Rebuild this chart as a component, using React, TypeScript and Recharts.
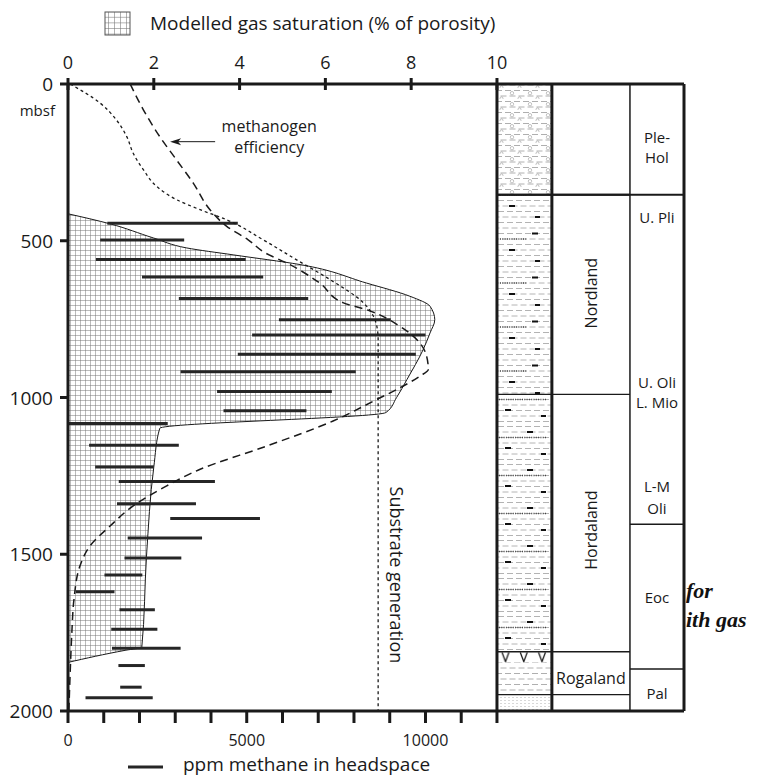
import React from 'react';
import {
  ComposedChart,
  Area,
  Line,
  XAxis,
  YAxis,
  ReferenceArea,
  ReferenceLine,
  ReferenceDot,
} from 'recharts';

const FONT = '"Open Sans", "Noto Sans", sans-serif';
const INK = '#1a1a1a';

// axes
const DEPTH_TICKS = [0, 500, 1000, 1500, 2000];
const GAS_TICKS = [0, 2, 4, 6, 8, 10];
const PPM_TICKS = [0, 1000, 2000, 3000, 4000, 5000, 6000, 7000, 8000, 9000, 10000, 11000, 12000];
const PPM_LABELS = [0, 5000, 10000];

// the top axis runs on past 10 % over the three strat columns
const COLUMN_EDGES = [10, 11.28, 13.1, 14.36]; // lithology | formation | epoch
const GAS_MAX = COLUMN_EDGES[3];
const PPM_PER_GAS = 1200; // 12000 ppm sits under 10 %

// modelled gas saturation envelope: [depth mbsf, % of porosity]
const GAS_SATURATION: [number, number][] = [
  [414, 0], [446, 0.98], [491, 1.99], [523, 2.77], [545, 3.85], [576, 5.41],
  [635, 6.96], [677, 7.97], [709, 8.44], [752, 8.55], [794, 8.44], [847, 8.28],
  [943, 7.9], [1000, 7.66], [1048, 7.41], [1098, 2.14], [1222, 2.0], [1506, 1.83],
  [1797, 1.72], [1806, 1.35], [1845, 0],
];

// substrate generation curve (short dashes)
const SUBSTRATE: [number, number][] = [
  [0, 0.05], [61, 0.75], [115, 1.13], [168, 1.37], [221, 1.52], [274, 1.76],
  [327, 2.07], [369, 2.53], [401, 3.08], [433, 3.7], [497, 4.55], [561, 5.33],
  [624, 6.11], [697, 6.88], [741, 7.12], [773, 7.2], [815, 7.23], [2000, 7.23],
];

// methanogen efficiency curve (long dashes)
const METHANOGEN: [number, number][] = [
  [0, 1.45], [83, 1.76], [168, 2.14], [242, 2.53], [316, 2.92], [401, 3.31],
  [454, 3.7], [497, 4.2], [539, 4.6], [571, 5.1], [635, 5.87], [698, 6.42],
  [720, 6.96], [773, 7.74], [815, 8.13], [868, 8.36], [911, 8.4], [932, 8.2],
  [969, 7.74], [1006, 7.2], [1075, 6.18], [1155, 4.63], [1229, 3.08], [1282, 2.3],
  [1346, 1.52], [1410, 0.98], [1474, 0.51], [1537, 0.28], [1643, 0.14], [1749, 0.09],
  [1844, 0.06], [2000, 0.02],
];

// ppm methane in headspace, ranges per sample depth
const METHANE_DEPTH = [
  444, 498, 560, 616, 684, 752, 801, 862, 918, 981, 1042, 1083, 1152, 1222,
  1268, 1339, 1386, 1448, 1512, 1566, 1620, 1677, 1739, 1800, 1855, 1924, 1958,
];
const METHANE_MIN = [
  1100, 900, 780, 2070, 3100, 5900, 5150, 4750, 3150, 4170, 4350, 0, 590, 760,
  1420, 1370, 2860, 1670, 1580, 1020, 220, 1440, 1210, 1230, 1410, 1460, 490,
];
const METHANE_MAX = [
  4750, 3250, 4970, 5460, 6720, 9030, 10000, 9730, 8050, 7380, 6670, 2790, 3100, 2400,
  4110, 3580, 5370, 3750, 3170, 2080, 1300, 2430, 2500, 3150, 2150, 2060, 2370,
];

// stratigraphy
const LITHO_BREAKS = [0, 353, 990, 1811, 1845, 1948, 2000];
const FORMATION_BOUNDARIES = [353, 990, 1811, 1948];
const FORMATION_NAMES = ['Nordland', 'Hordaland', 'Rogaland'];
const FORMATION_LABEL_DEPTH = [667, 1423, 1895];
const EPOCH_BOUNDARIES = [353, 1404, 1866];
const EPOCH_LABELS = ['Ple-', 'Hol', 'U. Pli', 'U. Oli', 'L. Mio', 'L-M', 'Oli', 'Eoc', 'Pal'];
const EPOCH_LABEL_DEPTH = [169, 233, 424, 949, 1013, 1283, 1354, 1636, 1942];

const LITHO_FILLS = ['url(#pebbly)', 'url(#mud)', 'url(#mud2)', 'url(#tuff)', 'url(#shale)', 'url(#sand)'];

const toRows = (rows: [number, number][]) => rows.map(([depth, gas]) => ({ depth, gas }));

const GasTick = ({ x, y, payload }: any) => (
  <g>
    <line x1={x} x2={x} y1={y - 6} y2={y + 6} stroke={INK} strokeWidth={3} />
    <text x={x} y={y - 22} textAnchor="middle" dominantBaseline="central" fontSize={18} fontFamily={FONT} fill={INK}>
      {payload.value}
    </text>
  </g>
);

const PpmTick = ({ x, y, payload }: any) => (
  <g>
    <line x1={x} x2={x} y1={y} y2={y + 12} stroke={INK} strokeWidth={3} />
    {PPM_LABELS.includes(payload.value) && (
      <text x={x} y={y + 29} textAnchor="middle" dominantBaseline="central" fontSize={16} fontFamily={FONT} fill={INK}>
        {payload.value}
      </text>
    )}
  </g>
);

const DepthTick = ({ x, y, payload }: any) => (
  <g>
    <line x1={x - 8} x2={x} y1={y} y2={y} stroke={INK} strokeWidth={3} />
    <text x={x - 15} y={y} textAnchor="end" dominantBaseline="central" fontSize={19} fontFamily={FONT} fill={INK}>
      {payload.value}
    </text>
    {payload.value === 0 && (
      <text x={x - 13} y={y + 26} textAnchor="end" dominantBaseline="central" fontSize={15} fontFamily={FONT} fill={INK}>
        mbsf
      </text>
    )}
  </g>
);

const NoteText = (props: any) => {
  const { viewBox, lines, rot = 0, size = 15 } = props;
  if (!viewBox) return null;
  const cx = viewBox.x + (viewBox.width || 0) / 2;
  const cy = viewBox.y + (viewBox.height || 0) / 2;
  const lh = size * 1.35;
  const y0 = cy - ((lines.length - 1) * lh) / 2;
  return (
    <text
      x={cx}
      y={y0}
      textAnchor="middle"
      fontFamily={FONT}
      fontSize={size}
      fill={INK}
      transform={rot ? `rotate(${rot} ${cx} ${cy})` : undefined}
    >
      {lines.map((t: string, i: number) => (
        <tspan key={i} x={cx} y={y0 + i * lh} dominantBaseline="central">
          {t}
        </tspan>
      ))}
    </text>
  );
};

const ArrowShape = (props: any) => {
  const { x1, y1, x2, y2 } = props;
  if ([x1, y1, x2, y2].some((v) => typeof v !== 'number')) return null;
  return (
    <g>
      <line x1={x1} y1={y1} x2={x2 + 6} y2={y2} stroke={INK} strokeWidth={1} />
      <path d={`M${x2} ${y2} L${x2 + 11} ${y2 - 3.5} L${x2 + 8} ${y2} L${x2 + 11} ${y2 + 3.5} Z`} fill={INK} />
    </g>
  );
};

function mudRows(w: number, h: number) {
  let d = '';
  for (let r = 0; r * 5.5 < h; r++) {
    const y = 2.5 + r * 5.5;
    const off = r % 2 === 0 ? 1 : -3.5;
    for (let x = off; x < w; x += 9) d += `M${Math.max(0, x)} ${y}H${Math.min(w, x + 6)}`;
  }
  return d;
}

const Patterns = () => (
  <defs>
    <pattern id="gasGrid" width="5" height="5" patternUnits="userSpaceOnUse">
      <rect width="5" height="5" fill="#fff" />
      <path d="M0 0.3H5M0.3 0V5" stroke="#707070" strokeWidth="0.6" />
    </pattern>
    <pattern id="legendGrid" width="6" height="5.6" patternUnits="userSpaceOnUse">
      <rect width="6" height="5.6" fill="#fff" />
      <path d="M0 0.3H6M0.3 0V5.6" stroke="#777" strokeWidth="0.7" />
    </pattern>
    <pattern id="shale" width="18" height="11" patternUnits="userSpaceOnUse">
      <rect width="18" height="11" fill="#fff" />
      <path d={mudRows(18, 11)} stroke="#9a9a9a" strokeWidth="0.8" />
    </pattern>
    <pattern id="pebbly" width="18" height="11" patternUnits="userSpaceOnUse">
      <rect width="18" height="11" fill="#fff" />
      <path d={mudRows(18, 11)} stroke="#9a9a9a" strokeWidth="0.8" />
      <circle cx="8" cy="5.2" r="1.7" fill="#fff" stroke="#999" strokeWidth="0.6" />
      <circle cx="15.5" cy="10.4" r="1.5" fill="#fff" stroke="#999" strokeWidth="0.6" />
    </pattern>
    <pattern id="mud" x="497" width="54" height="44" patternUnits="userSpaceOnUse">
      <rect width="54" height="44" fill="#fff" />
      <path d={mudRows(54, 44)} stroke="#a0a0a0" strokeWidth="0.8" />
      <path d="M35 13.5h6M12 30h6M38 41h5" stroke="#111" strokeWidth="2" />
      <path d="M3 19H30" stroke="#444" strokeWidth="1.4" strokeDasharray="1 1.3" />
    </pattern>
    <pattern id="mud2" x="497" y="6" width="54" height="38" patternUnits="userSpaceOnUse">
      <rect width="54" height="38" fill="#fff" />
      <path d={mudRows(54, 38)} stroke="#a0a0a0" strokeWidth="0.8" />
      <path d="M30 8h6M8 24h6M44 30h5" stroke="#111" strokeWidth="2" />
      <path d="M2 13.5H50" stroke="#444" strokeWidth="1.4" strokeDasharray="1 1.3" />
    </pattern>
    <pattern id="tuff" width="0.333" height="1" patternUnits="objectBoundingBox">
      <rect width="20" height="12" fill="#fff" />
      <path d="M5 0.5 L8.5 10 L12 0.5" fill="none" stroke="#111" strokeWidth="1.2" />
    </pattern>
    <pattern id="sand" width="4" height="3" patternUnits="userSpaceOnUse">
      <rect width="4" height="3" fill="#fff" />
      <circle cx="1" cy="1.5" r="0.5" fill="#999" />
    </pattern>
  </defs>
);

export default function App() {
  const colMid = (i: number) => (COLUMN_EDGES[i] + COLUMN_EDGES[i + 1]) / 2;

  return (
    <div style={{ position: 'absolute', left: 0, top: 0, width: 771, height: 778, background: '#fff', fontFamily: FONT }}>
      <svg width={0} height={0} style={{ position: 'absolute' }}>
        <Patterns />
      </svg>

      <ComposedChart
        width={771}
        height={778}
        layout="vertical"
        margin={{ top: 54, right: 87, bottom: 37, left: 8 }}
      >
        <XAxis
          xAxisId="gas"
          orientation="top"
          type="number"
          domain={[0, GAS_MAX]}
          ticks={GAS_TICKS}
          interval={0}
          height={30}
          tick={GasTick}
          tickLine={false}
          tickSize={0}
          tickMargin={0}
          axisLine={{ stroke: INK, strokeWidth: 3 }}
          allowDataOverflow
        />
        <XAxis
          xAxisId="ppm"
          orientation="bottom"
          type="number"
          domain={[0, GAS_MAX * PPM_PER_GAS]}
          ticks={PPM_TICKS}
          interval={0}
          height={30}
          tick={PpmTick}
          tickLine={false}
          tickSize={0}
          tickMargin={0}
          axisLine={{ stroke: INK, strokeWidth: 3 }}
          allowDataOverflow
        />
        <YAxis
          yAxisId="depth"
          dataKey="depth"
          type="number"
          domain={[0, 2000]}
          ticks={DEPTH_TICKS}
          interval={0}
          width={60}
          tick={DepthTick}
          tickLine={false}
          tickSize={0}
          tickMargin={0}
          axisLine={{ stroke: INK, strokeWidth: 3 }}
          allowDataOverflow
        />

        {/* lithology column */}
        {LITHO_FILLS.map((fill, i) => (
          <ReferenceArea
            key={`lith-${i}`}
            xAxisId="gas"
            yAxisId="depth"
            x1={COLUMN_EDGES[0]}
            x2={COLUMN_EDGES[1]}
            y1={LITHO_BREAKS[i]}
            y2={LITHO_BREAKS[i + 1]}
            fill={fill}
            fillOpacity={1}
            stroke="none"
          />
        ))}
        {FORMATION_BOUNDARIES.map((d) => (
          <ReferenceLine
            key={`fb-${d}`}
            xAxisId="gas"
            yAxisId="depth"
            segment={[{ x: COLUMN_EDGES[0], y: d }, { x: COLUMN_EDGES[2], y: d }]}
            stroke={INK}
            strokeWidth={d === 353 ? 2 : 1.3}
          />
        ))}
        {EPOCH_BOUNDARIES.map((d) => (
          <ReferenceLine
            key={`eb-${d}`}
            xAxisId="gas"
            yAxisId="depth"
            segment={[{ x: COLUMN_EDGES[d === 353 ? 0 : 2], y: d }, { x: COLUMN_EDGES[3], y: d }]}
            stroke={INK}
            strokeWidth={d === 353 ? 2 : 1.5}
          />
        ))}
        {COLUMN_EDGES.map((x, i) => (
          <ReferenceLine
            key={`col-${i}`}
            xAxisId="gas"
            yAxisId="depth"
            x={x}
            stroke={INK}
            strokeWidth={i === 2 ? 1.5 : 3}
          />
        ))}

        <Area
          xAxisId="gas"
          yAxisId="depth"
          data={toRows(GAS_SATURATION)}
          dataKey="gas"
          type="monotone"
          stroke={INK}
          strokeWidth={1}
          fill="url(#gasGrid)"
          fillOpacity={1}
          dot={false}
          activeDot={false}
          isAnimationActive={false}
        />

        {METHANE_DEPTH.map((depth, i) => (
          <Line
            key={`ch4-${i}`}
            xAxisId="ppm"
            yAxisId="depth"
            data={[
              { depth, ppm: METHANE_MIN[i] },
              { depth, ppm: METHANE_MAX[i] },
            ]}
            dataKey="ppm"
            type="linear"
            stroke="#262626"
            strokeWidth={3}
            dot={false}
            activeDot={false}
            isAnimationActive={false}
          />
        ))}

        <Line
          xAxisId="gas"
          yAxisId="depth"
          data={toRows(SUBSTRATE)}
          dataKey="gas"
          type="monotone"
          stroke={INK}
          strokeWidth={1.3}
          strokeDasharray="3 3"
          dot={false}
          activeDot={false}
          isAnimationActive={false}
        />
        <Line
          xAxisId="gas"
          yAxisId="depth"
          data={toRows(METHANOGEN)}
          dataKey="gas"
          type="monotone"
          stroke={INK}
          strokeWidth={1.5}
          strokeDasharray="8 5"
          dot={false}
          activeDot={false}
          isAnimationActive={false}
        />

        <ReferenceLine
          xAxisId="gas"
          yAxisId="depth"
          segment={[{ x: 3.43, y: 184 }, { x: 2.38, y: 184 }]}
          shape={ArrowShape}
        />
        <ReferenceDot
          xAxisId="gas"
          yAxisId="depth"
          x={4.69}
          y={168}
          r={0}
          fill="none"
          stroke="none"
          label={<NoteText lines={['methanogen', 'efficiency']} size={16} />}
        />
        <ReferenceDot
          xAxisId="gas"
          yAxisId="depth"
          x={7.67}
          y={1566}
          r={0}
          fill="none"
          stroke="none"
          label={<NoteText lines={['Substrate generation']} size={18} rot={90} />}
        />

        {FORMATION_NAMES.map((name, i) => (
          <ReferenceDot
            key={`fn-${name}`}
            xAxisId="gas"
            yAxisId="depth"
            x={colMid(1)}
            y={FORMATION_LABEL_DEPTH[i]}
            r={0}
            fill="none"
            stroke="none"
            label={<NoteText lines={[name]} size={16} rot={i < 2 ? -90 : 0} />}
          />
        ))}
        {EPOCH_LABELS.map((name, i) => (
          <ReferenceDot
            key={`ep-${i}`}
            xAxisId="gas"
            yAxisId="depth"
            x={colMid(2)}
            y={EPOCH_LABEL_DEPTH[i]}
            r={0}
            fill="none"
            stroke="none"
            label={<NoteText lines={[name]} size={15} />}
          />
        ))}
      </ComposedChart>

      <svg
        width={771}
        height={778}
        style={{ position: 'absolute', left: 0, top: 0, pointerEvents: 'none' }}
      >
        <rect x={105} y={12} width={25} height={23} fill="url(#legendGrid)" stroke="#555" strokeWidth={1} />
        <text x={150} y={30} fontSize={19} fontFamily={FONT} fill={INK}>
          Modelled gas saturation (% of porosity)
        </text>
        <line x1={128} x2={163} y1={767} y2={767} stroke="#262626" strokeWidth={3} />
        <text x={183} y={771} fontSize={19} fontFamily={FONT} fill={INK}>
          ppm methane in headspace
        </text>
        <text x={686} y={598} fontSize={22} fontWeight="bold" fontStyle="italic" fontFamily='"Liberation Serif", serif' fill="#111">
          for
        </text>
        <text x={686} y={627} fontSize={22} fontWeight="bold" fontStyle="italic" fontFamily='"Liberation Serif", serif' fill="#111">
          ith gas
        </text>
      </svg>
    </div>
  );
}
